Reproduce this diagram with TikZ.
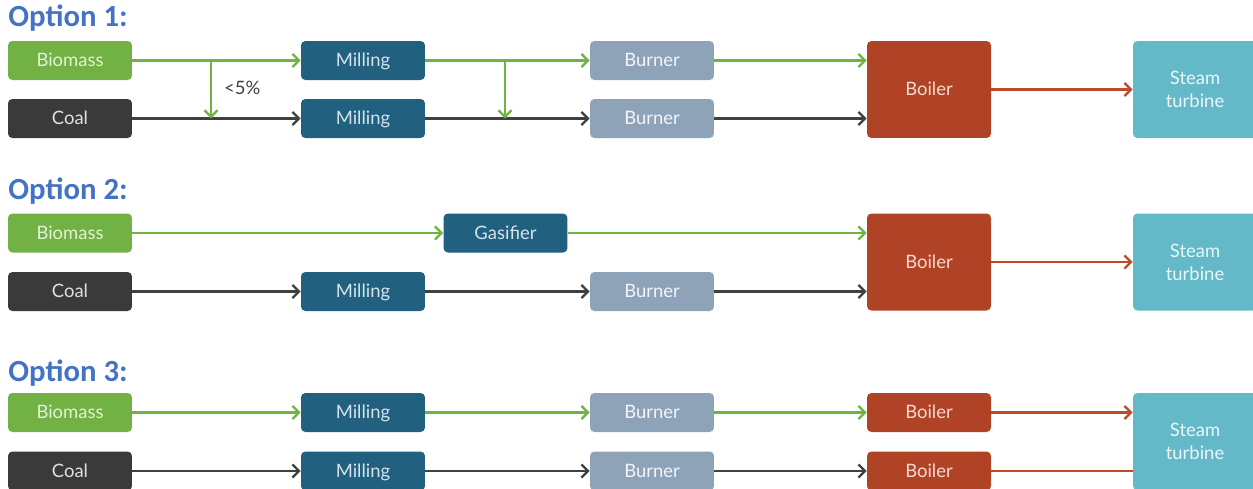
\documentclass[tikz,border=0pt]{standalone}
\usepackage{fontspec}
\setmainfont{Lato}
\newfontfamily\titlefont{Carlito}
\usetikzlibrary{arrows.meta}
\definecolor{biogreen}{HTML}{72B244}
\definecolor{biotext}{HTML}{E2F1D6}
\definecolor{coalgrey}{HTML}{3A3A3A}
\definecolor{coaltext}{HTML}{E0E0E0}
\definecolor{millblue}{HTML}{21607E}
\definecolor{milltext}{HTML}{D4E4EE}
\definecolor{burngrey}{HTML}{8FA3B8}
\definecolor{burntext}{HTML}{F2F5F8}
\definecolor{boilred}{HTML}{B04325}
\definecolor{boiltext}{HTML}{F6DACD}
\definecolor{turbcyan}{HTML}{63B9C8}
\definecolor{turbtext}{HTML}{EAF7F9}
\definecolor{titleblue}{HTML}{4472C4}
\definecolor{greenline}{HTML}{6DB540}
\definecolor{darkline}{HTML}{404040}
\definecolor{redline}{HTML}{BE4A2C}
\begin{document}
\begin{tikzpicture}[x=0.02cm,y=-0.02cm,
    box/.style={rounded corners=2.5pt, minimum width=2.48cm, minimum height=0.78cm,
      inner sep=0pt, text height=7.6pt, text depth=0.4pt,
      font=\fontsize{10.5}{13}\selectfont},
    bio/.style={box, fill=biogreen, text=biotext},
    coal/.style={box, fill=coalgrey, text=coaltext},
    mill/.style={box, fill=millblue, text=milltext},
    burn/.style={box, fill=burngrey, text=burntext},
    boil/.style={box, fill=boilred, text=boiltext},
    boilbig/.style={boil, minimum height=1.94cm},
    turb/.style={box, fill=turbcyan, text=turbtext, align=center,
      text height=, text depth=, minimum height=1.94cm},
    optitle/.style={anchor=base west, inner sep=0pt, text=titleblue,
      font=\titlefont\bfseries\fontsize{17.5}{20}\selectfont},
    flow/.style={line width=1.3pt, -{Straight Barb[length=3.8pt,width=7.5pt]}},
    gflow/.style={flow, greenline},
    kflow/.style={flow, darkline},
    rflow/.style={flow, redline}]
\useasboundingbox (0,0) rectangle (1253,488);

% Option 1
\node[optitle] (opt1) at (8,26) {Option 1:};
\node[bio] (bio1) at (70,60.5) {Biomass};
\node[coal] (coal1) at (70,118.5) {Coal};
\node[mill] (mill1a) at (363,60.5) {Milling};
\node[mill] (mill1b) at (363,118.5) {Milling};
\node[burn] (burn1a) at (652,60.5) {Burner};
\node[burn] (burn1b) at (652,118.5) {Burner};
\node[boilbig] (boil1) at (929,89.5) {Boiler};
\node[turb] (turb1) at (1195,89.5) {Steam\\turbine};
\coordinate (s1) at (211,60.5);
\coordinate (j1) at (211,118.5);
\coordinate (s2) at (505,60.5);
\coordinate (j2) at (505,118.5);
\draw[gflow] (bio1) -- (mill1a);
\draw[kflow] (coal1) -- (mill1b);
\draw[gflow] (s1) -- (j1);
\node[anchor=west, text=darkline, font=\fontsize{10.5}{13}\selectfont] (pct) at (218,88) {<5\%};
\draw[gflow] (mill1a) -- (burn1a);
\draw[kflow] (mill1b) -- (burn1b);
\draw[gflow] (s2) -- (j2);
\draw[gflow] (burn1a) -- (burn1a -| boil1.west);
\draw[kflow] (burn1b) -- (burn1b -| boil1.west);
\draw[rflow] (boil1) -- (turb1);

% Option 2
\node[optitle] (opt2) at (8,199) {Option 2:};
\node[bio] (bio2) at (70,233) {Biomass};
\node[coal] (coal2) at (70,291.5) {Coal};
\node[mill] (gas2) at (505.5,233) {Gasifier};
\node[mill] (mill2) at (363,291.5) {Milling};
\node[burn] (burn2) at (652,291.5) {Burner};
\node[boilbig] (boil2) at (929,262) {Boiler};
\node[turb] (turb2) at (1195,262) {Steam\\turbine};
\draw[gflow] (bio2) -- (gas2);
\draw[gflow] (gas2) -- (gas2 -| boil2.west);
\draw[kflow] (coal2) -- (mill2);
\draw[kflow] (mill2) -- (burn2);
\draw[kflow] (burn2) -- (burn2 -| boil2.west);
\draw[rflow] (boil2) -- (turb2);

% Option 3
\node[optitle] (opt3) at (8,381) {Option 3:};
\node[bio] (bio3) at (70,412.5) {Biomass};
\node[coal] (coal3) at (70,471) {Coal};
\node[mill] (mill3a) at (363,412.5) {Milling};
\node[mill] (mill3b) at (363,471) {Milling};
\node[burn] (burn3a) at (652,412.5) {Burner};
\node[burn] (burn3b) at (652,471) {Burner};
\node[boil] (boil3a) at (929,412.5) {Boiler};
\node[boil] (boil3b) at (929,471) {Boiler};
\node[turb] (turb3) at (1195,441.5) {Steam\\turbine};
\draw[gflow] (bio3) -- (mill3a);
\draw[kflow] (coal3) -- (mill3b);
\draw[gflow] (mill3a) -- (burn3a);
\draw[kflow] (mill3b) -- (burn3b);
\draw[gflow] (burn3a) -- (boil3a);
\draw[kflow] (burn3b) -- (boil3b);
\draw[rflow] (boil3a) -- (boil3a -| turb3.west);
\draw[redline, line width=1.3pt] (boil3b) -- (boil3b -| turb3.west);
\end{tikzpicture}
\end{document}
